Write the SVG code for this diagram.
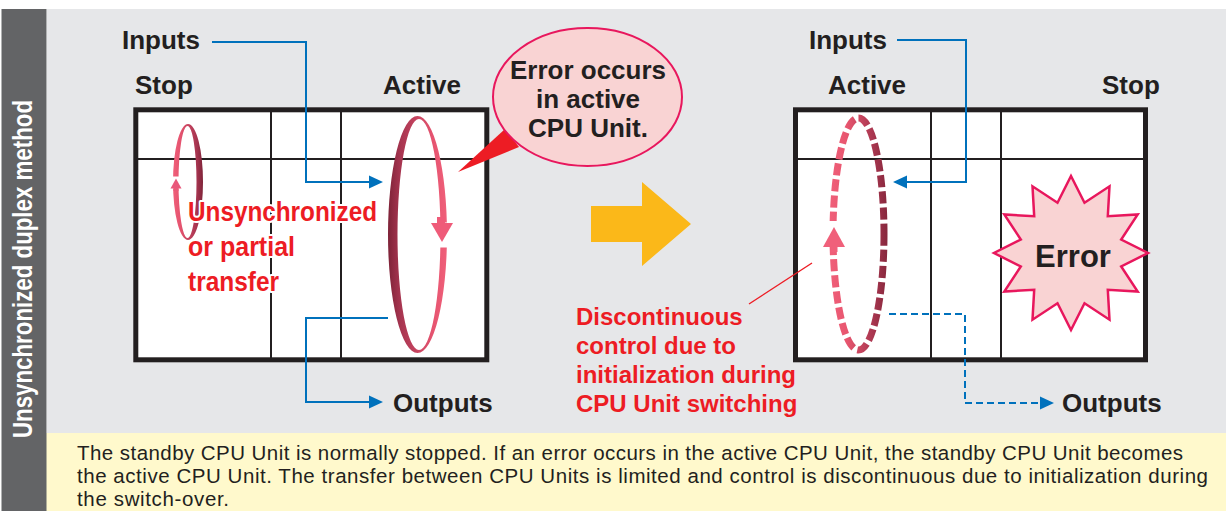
<svg xmlns="http://www.w3.org/2000/svg" width="1231" height="511" viewBox="0 0 1231 511">
<style>
.lbl{font-family:"Liberation Sans",Arial,sans-serif;font-weight:bold;font-size:26px;fill:#231f20}
.red{font-family:"Liberation Sans",Arial,sans-serif;font-weight:bold;fill:#ed1c24}
.halo{stroke:#fff;stroke-width:4;paint-order:stroke;stroke-linejoin:round}
.box{fill:#fff;stroke:#231f20;stroke-width:5}
.grid{stroke:#231f20;stroke-width:2;fill:none}
.blue{stroke:#0071bc;stroke-width:2;fill:none}
.bluehead{fill:#0071bc}
.para{font-family:"Liberation Sans",Arial,sans-serif;font-size:20.5px;fill:#231f20}
</style>
<defs>
<linearGradient id="gDarkLeft" x1="0" y1="0" x2="1" y2="0">
<stop offset="0" stop-color="#7e2338"/><stop offset="0.2" stop-color="#a5344f"/><stop offset="0.75" stop-color="#e5536f"/><stop offset="1" stop-color="#f0607a"/>
</linearGradient>
<linearGradient id="gDarkRight" x1="0" y1="0" x2="1" y2="0">
<stop offset="0" stop-color="#f0607a"/><stop offset="0.25" stop-color="#e5536f"/><stop offset="0.8" stop-color="#a5344f"/><stop offset="1" stop-color="#7e2338"/>
</linearGradient>
<linearGradient id="gDash" gradientUnits="userSpaceOnUse" x1="829" y1="0" x2="888" y2="0">
<stop offset="0" stop-color="#f0607a"/><stop offset="0.3" stop-color="#e8566f"/><stop offset="0.75" stop-color="#a8364f"/><stop offset="1" stop-color="#85273c"/>
</linearGradient>
</defs>

<rect x="0" y="0" width="1231" height="511" fill="#fff"/>
<rect x="47" y="9" width="1179" height="424" fill="#e6e7e9"/>
<rect x="46" y="433" width="1180" height="78" fill="#fff9cc"/>

<g id="sidebar">
<rect x="1.5" y="9" width="45" height="502" fill="#636466"/>
<text transform="translate(32,438) rotate(-90)" font-family="Liberation Sans, Arial, sans-serif" font-weight="bold" font-size="27" fill="#fff" textLength="338" lengthAdjust="spacingAndGlyphs">Unsynchronized duplex method</text>
</g>

<g id="left-unit">
<rect class="box" x="135.8" y="109.8" width="351" height="250"/>
<line class="grid" x1="138" y1="159" x2="485" y2="159"/>
<line class="grid" x1="271" y1="112" x2="271" y2="358"/>
<line class="grid" x1="341" y1="112" x2="341" y2="358"/>
<text class="lbl" x="135" y="94">Stop</text>
<text class="lbl" x="383" y="94">Active</text>
<path fill="url(#gDarkRight)" fill-rule="evenodd" d="M173,182 a15,58 0 1,0 30,0 a15,58 0 1,0 -30,0 Z M178.5,182 a9,56 0 1,0 18,0 a9,56 0 1,0 -18,0 Z"/>
<rect x="169" y="176.5" width="12" height="12" fill="#fff"/>
<polygon points="176,178.5 170.5,188.5 181.5,188.5" fill="#e9577a"/>
<rect x="173.5" y="188" width="5" height="3" fill="#ea5a78"/>
<path fill="url(#gDarkLeft)" fill-rule="evenodd" d="M388,234.5 a29.5,118.5 0 1,0 59,0 a29.5,118.5 0 1,0 -59,0 Z M397.5,234.5 a21.5,115.5 0 1,0 43,0 a21.5,115.5 0 1,0 -43,0 Z"/>
<rect x="435" y="222.5" width="16" height="25" fill="#fff"/>
<polygon points="431,223 453,223 442,242" fill="#ef5b79"/>
<rect x="437" y="217" width="8" height="7" fill="#ef5b79"/>
<text class="red halo" font-size="28" x="188" y="221" textLength="189" lengthAdjust="spacingAndGlyphs">Unsynchronized</text>
<text class="red halo" font-size="28" x="188" y="256" textLength="107" lengthAdjust="spacingAndGlyphs">or partial</text>
<text class="red halo" font-size="28" x="188" y="291" textLength="91" lengthAdjust="spacingAndGlyphs">transfer</text>
</g>

<g id="right-unit">
<rect class="box" x="795.5" y="109.8" width="350" height="250"/>
<line class="grid" x1="798" y1="159" x2="1143" y2="159"/>
<line class="grid" x1="931" y1="112" x2="931" y2="358"/>
<line class="grid" x1="1001" y1="112" x2="1001" y2="358"/>
<text class="lbl" x="828" y="94">Active</text>
<text class="lbl" x="1102" y="94">Stop</text>
<ellipse cx="858.5" cy="234" rx="25.5" ry="116" fill="none" stroke="url(#gDash)" stroke-width="7" stroke-dasharray="12 4"/>
<rect x="826" y="221" width="16" height="26" fill="#fff"/>
<polygon points="834,227 823,247 845,247" fill="#f0607a"/>
<rect x="830.5" y="246" width="7" height="6" fill="#f0607a"/>
</g>

<g id="error-star">
<polygon fill="#f9d3d3" stroke="#e8175d" stroke-width="2.5" stroke-linejoin="miter" points="1071,176 1084.5,202.8 1109.5,186.3 1107.8,216.2 1137.7,214.5 1121.2,239.5 1148,253 1121.2,266.5 1137.7,291.5 1107.8,289.8 1109.5,319.7 1084.5,303.2 1071,330 1057.5,303.2 1032.5,319.7 1034.2,289.8 1004.3,291.5 1020.8,266.5 994,253 1020.8,239.5 1004.3,214.5 1034.2,216.2 1032.5,186.3 1057.5,202.8"/>
<text x="1073" y="267" text-anchor="middle" font-family="Liberation Sans, Arial, sans-serif" font-weight="bold" font-size="31" fill="#231f20">Error</text>
</g>

<g id="callout">
<polygon points="458,172 505,129 519,147" fill="#ed1c24"/>
<ellipse cx="587.5" cy="97" rx="94.5" ry="69" fill="#f9d3d3" stroke="#e8175d" stroke-width="2"/>
<text class="lbl" font-size="24" x="588" y="79" text-anchor="middle">Error occurs</text>
<text class="lbl" font-size="24" x="588" y="108" text-anchor="middle">in active</text>
<text class="lbl" font-size="24" x="588" y="137" text-anchor="middle">CPU Unit.</text>
</g>

<g id="switch-arrow">
<polygon points="591,206 642,206 642,182 691,224 642,266 642,242 591,242" fill="#fbb819"/>
</g>

<g id="io-labels">
<text class="lbl" x="122" y="49">Inputs</text>
<text class="lbl" x="393" y="412">Outputs</text>
<text class="lbl" x="809" y="49">Inputs</text>
<text class="lbl" x="1062" y="412">Outputs</text>
</g>

<g id="connectors">
<polyline class="blue" points="212,42 306,42 306,182 371,182"/>
<polygon class="bluehead" points="383,182 369,175.5 369,188.5"/>
<polyline class="blue" points="388,318 306,318 306,402 371,402"/>
<polygon class="bluehead" points="383,402 369,395.5 369,408.5"/>
<polyline class="blue" points="897,40 966,40 966,182 905,182"/>
<polygon class="bluehead" points="893,182 907,175.5 907,188.5"/>
<polyline class="blue" points="889,314 965,314 965,403 1042,403" stroke-dasharray="7 4"/>
<polygon class="bluehead" points="1054,403 1040,396.5 1040,409.5"/>
<line x1="749" y1="304" x2="812" y2="263" stroke="#ed1c24" stroke-width="1.4"/>
</g>

<g id="discontinuous-note">
<text class="red" font-size="24" x="576" y="325">Discontinuous</text>
<text class="red" font-size="24" x="576" y="354">control due to</text>
<text class="red" font-size="24" x="576" y="383">initialization during</text>
<text class="red" font-size="24" x="576" y="412">CPU Unit switching</text>
</g>

<g id="description">
<text class="para" x="77" y="460" textLength="1106">The standby CPU Unit is normally stopped. If an error occurs in the active CPU Unit, the standby CPU Unit becomes</text>
<text class="para" x="77" y="483" textLength="1131">the active CPU Unit. The transfer between CPU Units is limited and control is discontinuous due to initialization during</text>
<text class="para" x="77" y="506" textLength="152">the switch-over.</text>
</g>
</svg>
